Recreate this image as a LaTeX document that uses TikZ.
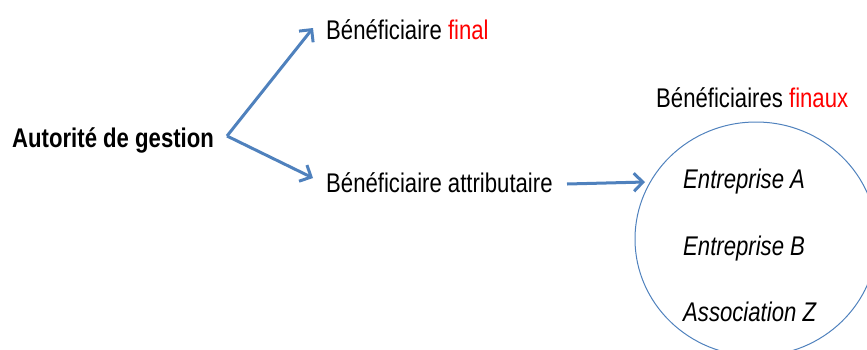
\documentclass[tikz,border=0pt]{standalone}
\usepackage{fontspec}
\setmainfont[FakeStretch=0.82]{Liberation Sans}
\usetikzlibrary{arrows.meta}
\definecolor{flowblue}{RGB}{79,129,189}
\definecolor{accent}{RGB}{255,0,0}
\tikzset{
  label/.style={inner sep=0pt, anchor=base west, font=\fontsize{27}{30}\selectfont},
  member/.style={label, font=\fontsize{27}{30}\selectfont\itshape},
  flow/.style={draw=flowblue, line width=3pt, -{Straight Barb[length=9pt,width=18pt,line width=3pt]}},
  group/.style={draw=flowblue, line width=1pt}
}
\begin{document}
\begin{tikzpicture}[x=1pt,y=-1pt]
  \useasboundingbox (0,0) rectangle (867,349);
  % texts
  \node[label, font=\fontsize{27}{30}\selectfont\bfseries] (auth) at (12,147) {Autorité de gestion};
  \node[label] (final) at (326,39) {Bénéficiaire \textcolor{accent}{final}};
  \node[label] (attr) at (326,192) {Bénéficiaire attributaire};
  \node[label] (finaux) at (656,107) {Bénéficiaires \textcolor{accent}{finaux}};
  % group of final beneficiaries
  \draw[group] (756,239) ellipse [x radius=121, y radius=117];
  \node[member] (ea) at (683,188) {Entreprise A};
  \node[member] (eb) at (683,255) {Entreprise B};
  \node[member] (az) at (683,321) {Association Z};
  % connectors
  \coordinate (fork) at (227,136);
  \coordinate (toFinal) at (313,28);
  \coordinate (toAttr) at (313,178);
  \coordinate (fromAttr) at (567,184);
  \coordinate (toGroup) at (645,182);
  \draw[flow] (fork) -- (toFinal);
  \draw[flow] (fork) -- (toAttr);
  \draw[flow] (fromAttr) -- (toGroup);
\end{tikzpicture}
\end{document}
